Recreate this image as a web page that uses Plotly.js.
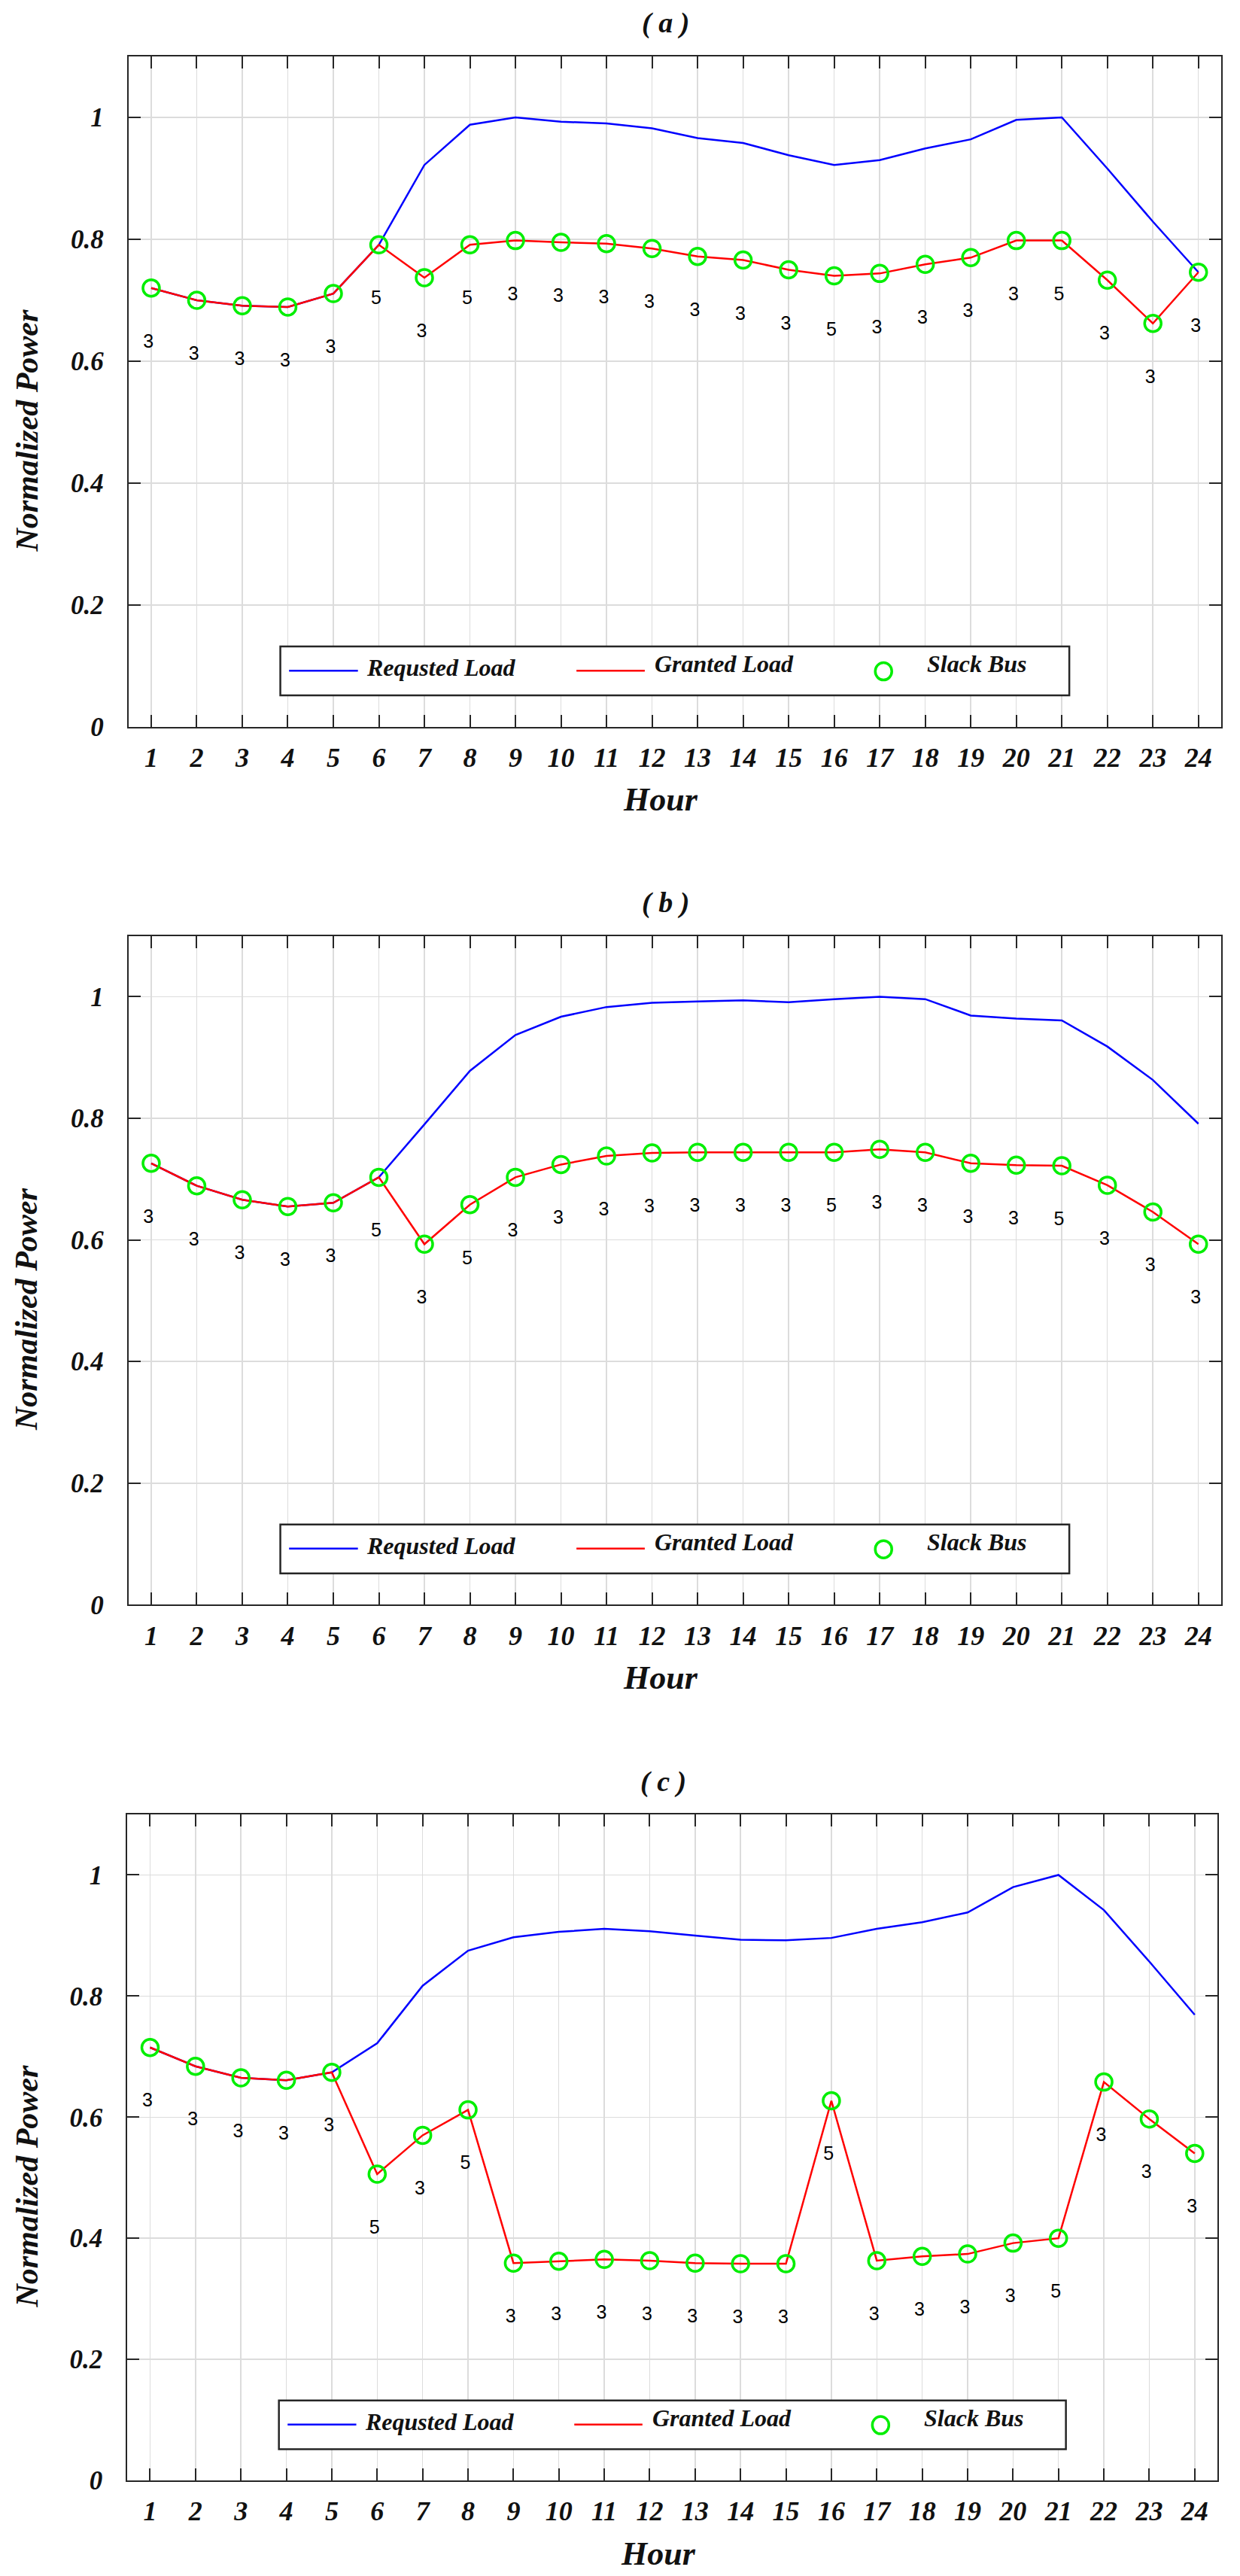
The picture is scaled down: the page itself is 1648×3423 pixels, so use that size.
<!DOCTYPE html>
<html>
<head>
<meta charset="utf-8">
<script src="https://cdn.plot.ly/plotly-3.0.1.min.js"></script>
<style>
html,body{margin:0;padding:0;background:#fff;}
#chart{width:1648px;height:3423px;}
</style>
</head>
<body>
<div id="chart"></div>
<script>
// ---------- DATA ----------
const hours = [1,2,3,4,5,6,7,8,9,10,11,12,13,14,15,16,17,18,19,20,21,22,23,24];
const yTickVals = [0,0.2,0.4,0.6,0.8,1];
const yTickText = ['0','0.2','0.4','0.6','0.8','1'];
const panelTitles = ['( a )','( b )','( c )'];
const legendNames = ['Requsted Load','Granted Load','Slack Bus'];

const requestedA = [0.720,0.700,0.691,0.689,0.711,0.791,0.922,0.988,1.000,0.993,0.990,0.982,0.966,0.958,0.938,0.922,0.930,0.949,0.964,0.996,1.000,0.916,0.829,0.746];
const grantedA   = [0.720,0.700,0.691,0.689,0.711,0.791,0.737,0.791,0.798,0.795,0.793,0.785,0.772,0.766,0.750,0.740,0.744,0.759,0.770,0.798,0.798,0.733,0.662,0.746];
const slackA     = [3,3,3,3,3,5,3,5,3,3,3,3,3,3,3,5,3,3,3,3,5,3,3,3];

const requestedB = [0.726,0.689,0.666,0.655,0.661,0.703,0.790,0.878,0.937,0.967,0.983,0.990,0.992,0.994,0.991,0.996,1.000,0.996,0.969,0.964,0.961,0.918,0.863,0.791];
const grantedB   = [0.726,0.689,0.666,0.655,0.661,0.703,0.593,0.658,0.703,0.724,0.738,0.743,0.744,0.744,0.744,0.744,0.749,0.744,0.726,0.723,0.722,0.690,0.646,0.593];
const slackB     = [3,3,3,3,3,5,3,5,3,3,3,3,3,3,3,5,3,3,3,3,5,3,3,3];

const requestedC = [0.715,0.684,0.665,0.661,0.674,0.722,0.817,0.875,0.897,0.906,0.911,0.907,0.900,0.893,0.892,0.896,0.911,0.922,0.938,0.980,1.000,0.942,0.857,0.769];
const grantedC   = [0.715,0.684,0.665,0.661,0.674,0.506,0.570,0.612,0.359,0.362,0.365,0.363,0.359,0.358,0.358,0.627,0.363,0.370,0.374,0.392,0.400,0.658,0.597,0.540];
const slackC     = [3,3,3,3,3,5,3,5,3,3,3,3,3,3,3,5,3,3,3,3,5,3,3,3];

// ---------- LAYOUT HELPERS ----------
const W = 1648, H = 3423;
const fx = p => p / W;
const fy = p => 1 - p / H;
const SERIF = '"Liberation Serif", "Times New Roman", serif';
const SANS = '"Liberation Sans", Arial, sans-serif';
const BLUE = '#0000ff', RED = '#ff0000', GREEN = '#00ee00', AX = '#262626', GRID = '#dcdcdc';

const panels = [
  {req: requestedA, gr: grantedA, sl: slackA, frame: {l:170.7, r:1623, t:75,     b:966}},
  {req: requestedB, gr: grantedB, sl: slackB, frame: {l:170.7, r:1623, t:1243.6, b:2132.4}},
  {req: requestedC, gr: grantedC, sl: slackC, frame: {l:169.3, r:1618, t:2411,   b:3296}}
];

const traces = [];
const layout = {
  width: W, height: H,
  margin: {l:0, r:0, t:0, b:0},
  paper_bgcolor: '#fff', plot_bgcolor: '#fff',
  showlegend: false,
  hovermode: false,
  annotations: [], shapes: []
};

panels.forEach((p, i) => {
  const n = i === 0 ? '' : String(i + 1);
  const xa = 'x' + n, ya = 'y' + n;
  const f = p.frame;

  traces.push({x: hours, y: p.req, xaxis: xa, yaxis: ya, type: 'scatter', mode: 'lines',
    name: legendNames[0], line: {color: BLUE, width: 2.5}});
  traces.push({x: hours, y: p.gr, xaxis: xa, yaxis: ya, type: 'scatter', mode: 'lines',
    name: legendNames[1], line: {color: RED, width: 2.5}});
  traces.push({x: hours, y: p.gr, xaxis: xa, yaxis: ya, type: 'scatter', mode: 'markers',
    name: legendNames[2],
    marker: {symbol: 'circle-open', size: 22, color: GREEN, line: {color: GREEN, width: 3.5}}});
  traces.push({x: hours.map(h => h - 0.06), y: p.gr.map(v => v - 0.09), xaxis: xa, yaxis: ya,
    type: 'scatter', mode: 'text', text: p.sl.map(String), textposition: 'middle center',
    textfont: {family: SANS, size: 25, color: '#000'}});

  const common = {
    showline: true, linecolor: AX, linewidth: 2, mirror: 'ticks',
    ticks: 'inside', ticklen: 16, tickwidth: 2, tickcolor: AX,
    showgrid: true, gridcolor: GRID, gridwidth: 1.5, zeroline: false,
    tickfont: {family: SERIF, size: 36, color: '#111', weight: 'bold', style: 'italic'}
  };
  layout['xaxis' + n] = Object.assign({}, common, {
    domain: [fx(f.l), fx(f.r)], anchor: ya, range: [0.5, 24.5],
    tickmode: 'array', tickvals: hours, ticktext: hours.map(String),
    ticklabelstandoff: 8
  });
  layout['yaxis' + n] = Object.assign({}, common, {
    domain: [fy(f.b), fy(f.t)], anchor: xa, range: [0, 1.1],
    tickmode: 'array', tickvals: yTickVals, ticktext: yTickText,
    ticklabelstandoff: 24,
    tickfont: {family: SERIF, size: 35, color: '#111', weight: 'bold', style: 'italic'}
  });

  const midX = (f.l + f.r) / 2;
  // panel title
  layout.annotations.push({xref: 'paper', yref: 'paper', x: fx(midX - 12), y: fy(f.t - 44),
    xanchor: 'center', yanchor: 'middle', showarrow: false, text: panelTitles[i],
    font: {family: SERIF, size: 38, color: '#111', weight: 'bold', style: 'italic'}});
  // y title
  layout.annotations.push({xref: 'paper', yref: 'paper', x: fx(35), y: fy((f.t + f.b) / 2 + 52),
    xanchor: 'center', yanchor: 'middle', showarrow: false, textangle: -90, text: 'Normalized Power',
    font: {family: SERIF, size: 42, color: '#111', weight: 'bold', style: 'italic'}});
  // x title
  layout.annotations.push({xref: 'paper', yref: 'paper', x: fx(midX - 19), y: fy(f.b + 97),
    xanchor: 'center', yanchor: 'middle', showarrow: false, text: 'Hour',
    font: {family: SERIF, size: 44, color: '#111', weight: 'bold', style: 'italic'}});

  // legend box (manual, in axis-domain coordinates)
  const xd = xa + ' domain', yd = ya + ' domain';
  layout.shapes.push({type: 'rect', xref: xd, yref: yd, x0: 0.139, x1: 0.861, y0: 0.047, y1: 0.120,
    line: {color: AX, width: 2.5}, fillcolor: '#fff', layer: 'above'});
  layout.shapes.push({type: 'line', xref: xd, yref: yd, x0: 0.147, x1: 0.210, y0: 0.084, y1: 0.084,
    line: {color: BLUE, width: 2.5}, layer: 'above'});
  layout.shapes.push({type: 'line', xref: xd, yref: yd, x0: 0.410, x1: 0.4725, y0: 0.084, y1: 0.084,
    line: {color: RED, width: 2.5}, layer: 'above'});
  layout.shapes.push({type: 'circle', xref: xd, yref: yd, xsizemode: 'pixel', ysizemode: 'pixel',
    xanchor: 0.691, yanchor: 0.083, x0: -11, x1: 11, y0: -11.5, y1: 11.5,
    line: {color: GREEN, width: 3.5}, layer: 'above'});
  const lf = {family: SERIF, size: 32, color: '#111', weight: 'bold', style: 'italic'};
  layout.annotations.push({xref: xd, yref: yd, x: 0.2166, y: 0.0887, xanchor: 'left', yanchor: 'middle',
    showarrow: false, text: legendNames[0], font: lf});
  layout.annotations.push({xref: xd, yref: yd, x: 0.480, y: 0.094, xanchor: 'left', yanchor: 'middle',
    showarrow: false, text: legendNames[1], font: lf});
  layout.annotations.push({xref: xd, yref: yd, x: 0.7295, y: 0.094, xanchor: 'left', yanchor: 'middle',
    showarrow: false, text: legendNames[2], font: lf});
});

Plotly.newPlot('chart', traces, layout, {staticPlot: true, displayModeBar: false});
</script>
</body>
</html>
